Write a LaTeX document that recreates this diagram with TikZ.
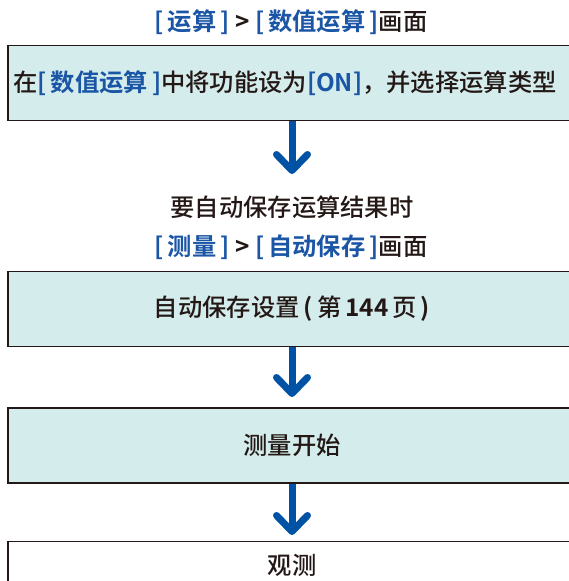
\documentclass[tikz,border=0pt]{standalone}
\usepackage{fontspec}
\setmainfont{Noto Sans CJK SC}[UprightFont={* Medium}, BoldFont={* Bold}]
\usepackage{xcolor}
\usetikzlibrary{arrows.meta}

\definecolor{inkblk}{HTML}{231815}
\definecolor{inkblue}{HTML}{1A56A5}
\definecolor{flowblue}{HTML}{0052A4}
\definecolor{boxfill}{HTML}{D4ECEC}
\newcommand{\kw}[1]{\textcolor{inkblue}{\bfseries #1}}

\begin{document}
\begin{tikzpicture}[
  x=1pt, y=-1pt,
  % base styles; fills chosen per node below
  box/.style={rectangle, draw=inkblk, line width=1.4pt, minimum width=568pt,
              minimum height=75pt, inner sep=0pt, text=inkblk,
              font=\fontsize{24.3}{28}\selectfont},
  ttl/.style={text=inkblk, inner sep=0pt, font=\fontsize{24.3}{28}\selectfont},
  flow/.style={-{Straight Barb[length=16pt, width=31pt, round]},
               flowblue, line width=7pt},
]
\useasboundingbox (0,0) rectangle (569,581);

%% ── Screen titles ─────────────────────────────────────────────────
\node[ttl] (t1) at (291,22)  {\kw{[\,运算\,]}\ \textbf{>}\ \kw{[\,数值运算\,]}画面};
\node[ttl] (cond) at (292,207) {要自动保存运算结果时};
\node[ttl] (t2) at (291,247) {\kw{[\,测量\,]}\ \textbf{>}\ \kw{[\,自动保存\,]}画面};

%% ── Steps ─────────────────────────────────────────────────────────
\node[box, fill=boxfill] (b1) at (292,83)
  {\hspace*{-14pt}在\kw{[\,数值运算\,]}中将功能设为\kw{[ON]}，并选择运算类型};
\node[box, fill=boxfill] (b2) at (292,309)
  {自动保存设置\,\textbf{(}\,第\,\textbf{144}\,页\,\textbf{)}};
\node[box, fill=boxfill] (b3) at (292,445.5) {测量开始};
\node[box, fill=white, minimum height=47pt] (b4) at (292,565) {观测};

%% ── Arrow tips (free ends) ────────────────────────────────────────
\coordinate (e1) at (292,174);
\coordinate (e2) at (292,397);
\coordinate (e3) at (292,535);

\draw[flow] (b1.south) -- (e1);
\draw[flow] (b2.south) -- (e2);
\draw[flow] (b3.south) -- (e3);

\end{tikzpicture}
\end{document}
